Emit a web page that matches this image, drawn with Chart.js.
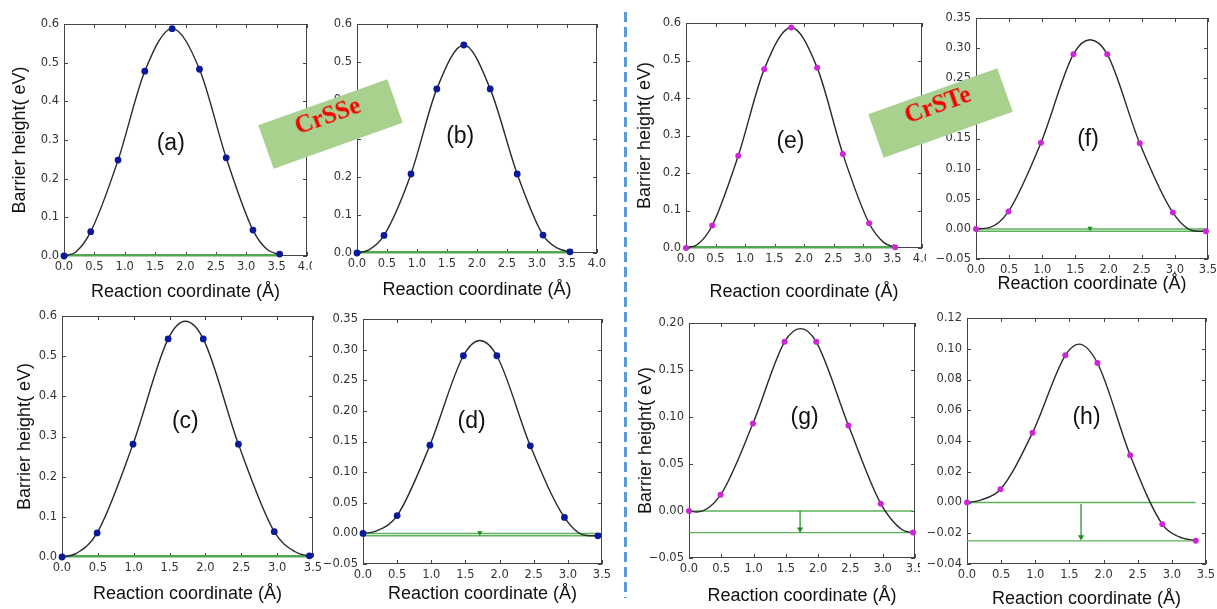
<!DOCTYPE html>
<html>
<head>
<meta charset="utf-8">
<title>Barrier height vs reaction coordinate</title>
<script src="https://cdn.jsdelivr.net/npm/chart.js@4.4.0/dist/chart.umd.min.js"></script>
<style>
    body {
        margin: 0;
        width: 1217px;
        height: 609px;
        background: #fff;
        position: relative;
        overflow: hidden;
    }
    canvas {
        position: absolute;
    }
    .divider {
        position: absolute;
        left: 624px;
        top: 12px;
        width: 3px;
        height: 586px;
        background: repeating-linear-gradient(to bottom, #5b9bd5 0 10px, transparent 10px 15px);
    }
    .banner {
        position: absolute;
        width: 137px;
        height: 46px;
        line-height: 46px;
        background: #a9d18e;
        color: #f00000;
        font: bold 25px "Liberation Serif", "Times New Roman", serif;
        text-align: center;
        transform: rotate(-19.6deg);
        z-index: 5;
    }
</style>
</head>
<body>
<div id="figure"></div>
<div class="divider"></div>
<div class="banner" style="left:262px; top:101px;">CrSSe</div>
<div class="banner" style="left:872px; top:90px;">CrSTe</div>

<script>
// ---- data ----
// CrSSe, blue points
const aX = [0, 0.44, 0.89, 1.33, 1.78, 2.23, 2.67, 3.11, 3.55];
const aY = [0, 0.063, 0.248, 0.478, 0.588, 0.483, 0.254, 0.067, 0.005];
const aCurveX = [0, 0.2, 0.44, 0.89, 1.33, 1.78, 2.23, 2.67, 3.11, 3.35, 3.55];
const aCurveY = [0, 0.011, 0.063, 0.248, 0.478, 0.588, 0.483, 0.254, 0.067, 0.016, 0.004];
const aLevels = [0.002];

const bX = [0, 0.45, 0.9, 1.33, 1.78, 2.22, 2.67, 3.1, 3.55];
const bY = [0, 0.046, 0.207, 0.43, 0.545, 0.43, 0.207, 0.047, 0.003];
const bCurveX = [0, 0.2, 0.45, 0.9, 1.33, 1.78, 2.22, 2.67, 3.1, 3.35, 3.55];
const bCurveY = [0, 0.008, 0.046, 0.207, 0.43, 0.545, 0.43, 0.207, 0.047, 0.012, 0.003];
const bLevels = [0.002];

const cX = [0, 0.49, 0.99, 1.48, 1.97, 2.46, 2.96, 3.45];
const cY = [0, 0.06, 0.281, 0.543, 0.543, 0.281, 0.063, 0.003];
const cCurveX = [0, 0.2, 0.49, 0.99, 1.48, 1.72, 1.97, 2.46, 2.96, 3.25, 3.45];
const cCurveY = [0, 0.009, 0.06, 0.281, 0.543, 0.587, 0.543, 0.281, 0.063, 0.013, 0.002];
const cLevels = [0.002];

const dX = [0, 0.5, 0.98, 1.47, 1.96, 2.45, 2.95, 3.44];
const dY = [0, 0.029, 0.144, 0.29, 0.29, 0.143, 0.026, -0.004];
const dCurveX = [0, 0.2, 0.5, 0.98, 1.47, 1.71, 1.96, 2.45, 2.95, 3.25, 3.44];
const dCurveY = [0, 0.004, 0.029, 0.144, 0.29, 0.315, 0.29, 0.143, 0.026, -0.003, -0.004];
const dLevels = [0, -0.004];
const dArrow = [1.71, 0.001];

// CrSTe, magenta points
const eX = [0, 0.445, 0.886, 1.326, 1.783, 2.223, 2.658, 3.104, 3.544];
const eY = [0, 0.06, 0.246, 0.477, 0.588, 0.481, 0.251, 0.066, 0.002];
const eCurveX = [0, 0.2, 0.445, 0.886, 1.326, 1.783, 2.223, 2.658, 3.104, 3.35, 3.544];
const eCurveY = [0, 0.01, 0.06, 0.246, 0.477, 0.588, 0.481, 0.251, 0.066, 0.015, 0.002];
const eLevels = [0.002];

const fX = [0, 0.49, 0.98, 1.47, 1.98, 2.47, 2.97, 3.47];
const fY = [0, 0.029, 0.143, 0.29, 0.29, 0.142, 0.027, -0.004];
const fCurveX = [0, 0.2, 0.49, 0.98, 1.47, 1.72, 1.98, 2.47, 2.97, 3.3, 3.47];
const fCurveY = [0, 0.002, 0.029, 0.143, 0.29, 0.314, 0.29, 0.142, 0.027, -0.0035, -0.004];
const fLevels = [0, -0.004];
const fArrow = [1.72, 0.001];

const gX = [0, 0.49, 0.99, 1.48, 1.97, 2.47, 2.97, 3.47];
const gY = [0, 0.0174, 0.093, 0.18, 0.18, 0.091, 0.0078, -0.023];
const gCurveX = [0, 0.12, 0.49, 0.99, 1.48, 1.73, 1.97, 2.47, 2.97, 3.3, 3.47];
const gCurveY = [0, -0.001, 0.0174, 0.093, 0.18, 0.194, 0.18, 0.091, 0.0078, -0.02, -0.023];
const gLevels = [0, -0.023];
const gArrow = [1.72, 0, -0.0195];

const hX = [0, 0.49, 0.96, 1.44, 1.91, 2.39, 2.86, 3.35];
const hY = [0, 0.0086, 0.0454, 0.0957, 0.0907, 0.0307, -0.0142, -0.0248];
const hCurveX = [0, 0.2, 0.49, 0.96, 1.44, 1.64, 1.91, 2.39, 2.86, 3.1, 3.35];
const hCurveY = [0, 0.0016, 0.0086, 0.0454, 0.0957, 0.103, 0.0907, 0.0307, -0.0142, -0.0222, -0.0248];
const hLevels = [0, -0.025];
const hArrow = [1.67, -0.001, -0.0225];

// axis ranges: [min, max, step]
const xRange40 = [0, 4, 0.5];
const xRange35 = [0, 3.5, 0.5];
const yRange06 = [0, 0.6, 0.1];
const yRange035 = [-0.05, 0.35, 0.05];
const yRange020 = [-0.05, 0.20, 0.05];
const yRange012 = [-0.04, 0.12, 0.02];

const X_TITLE = 'Reaction coordinate (\u00c5)';
const Y_TITLE = 'Barrier height( eV)';

const BLUE = '#0a1a9a';
const MAGENTA = '#cc26d9';
const GREEN = '#5cb35c';
const DARK_GREEN = '#1e8a1e';

// ---- layout of each panel: plot box [left, top, right, bottom] in page pixels ----
const panels = [
    { text: '(a)', xs: aX, ys: aY, cx: aCurveX, cy: aCurveY, levels: aLevels, xr: xRange40, yr: yRange06, dec: 1,
      color: BLUE, box: [64, 24, 307, 256], yw: 55, xh: 47, pr: 5, title: true, at: [1.757, 0.291], lw: 2.5 },
    { text: '(b)', xs: bX, ys: bY, cx: bCurveX, cy: bCurveY, levels: bLevels, xr: xRange40, yr: yRange06, dec: 1,
      color: BLUE, box: [357, 24, 597, 253], yw: 45, xh: 48, pr: 12, title: false, at: [1.72, 0.305], lw: 2.5 },
    { text: '(c)', xs: cX, ys: cY, cx: cCurveX, cy: cCurveY, levels: cLevels, xr: xRange35, yr: yRange06, dec: 1,
      color: BLUE, box: [62, 316, 313, 557], yw: 48, xh: 48, pr: 10, title: true, at: [1.72, 0.337], lw: 2.5 },
    { text: '(d)', xs: dX, ys: dY, cx: dCurveX, cy: dCurveY, levels: dLevels, xr: xRange35, yr: yRange035, dec: 2,
      color: BLUE, box: [363, 319, 602, 564], yw: 45, xh: 41, pr: 10, title: false, at: [1.59, 0.182], lw: 1.5, marker: dArrow },
    { text: '(e)', xs: eX, ys: eY, cx: eCurveX, cy: eCurveY, levels: eLevels, xr: xRange40, yr: yRange06, dec: 1,
      color: MAGENTA, box: [686, 23, 922, 248], yw: 52, xh: 55, pr: 4, title: true, at: [1.77, 0.283], lw: 2.5 },
    { text: '(f)', xs: fX, ys: fY, cx: fCurveX, cy: fCurveY, levels: fLevels, xr: xRange35, yr: yRange035, dec: 2,
      color: MAGENTA, box: [976, 18, 1208, 259], yw: 45, xh: 36, pr: 8, title: false, at: [1.69, 0.148], lw: 1.5, marker: fArrow },
    { text: '(g)', xs: gX, ys: gY, cx: gCurveX, cy: gCurveY, levels: gLevels, xr: xRange35, yr: yRange020, dec: 2,
      color: MAGENTA, box: [689, 323, 915, 558], yw: 54, xh: 49, pr: 5, title: true, at: [1.79, 0.099], lw: 1.3, arrow: gArrow },
    { text: '(h)', xs: hX, ys: hY, cx: hCurveX, cy: hCurveY, levels: hLevels, xr: xRange35, yr: yRange012, dec: 2,
      color: MAGENTA, box: [967, 318, 1206, 564], yw: 45, xh: 46, pr: 8, title: false, at: [1.75, 0.055], lw: 1.3, arrow: hArrow }
];

const TOP_PAD = 10;
const tickFont = { family: '"DejaVu Sans", sans-serif', size: 11.5 };
const titleFont = { family: '"Liberation Sans", Arial, sans-serif', size: 18 };

function fmt(v, dec) {
    if (Math.abs(v) < 1e-9) v = 0;
    const s = Math.abs(v).toFixed(dec);
    return v < 0 ? '\u2212' + s : s;
}

function toPoints(xs, ys) {
    return xs.map((x, i) => ({ x: x, y: ys[i] }));
}

// frame, inward ticks on all four sides, and the panel letter
const framePlugin = {
    id: 'frame',
    beforeDatasetsDraw(chart) {
        const { ctx, chartArea: a, scales: { x, y } } = chart;
        ctx.save();
        ctx.strokeStyle = '#444';
        ctx.lineWidth = 1;
        ctx.beginPath();
        x.ticks.forEach(t => {
            const px = Math.round(x.getPixelForValue(t.value)) + 0.5;
            ctx.moveTo(px, a.bottom); ctx.lineTo(px, a.bottom - 4);
            ctx.moveTo(px, a.top); ctx.lineTo(px, a.top + 4);
        });
        y.ticks.forEach(t => {
            const py = Math.round(y.getPixelForValue(t.value)) + 0.5;
            ctx.moveTo(a.left, py); ctx.lineTo(a.left + 4, py);
            ctx.moveTo(a.right, py); ctx.lineTo(a.right - 4, py);
        });
        ctx.stroke();
        ctx.strokeRect(a.left + 0.5, a.top + 0.5, a.width - 1, a.height - 1);
        ctx.restore();
    },
    afterDraw(chart, args, opts) {
        const { ctx, scales: { x, y } } = chart;
        ctx.save();
        ctx.fillStyle = '#111';
        ctx.font = '23px "Liberation Sans", Arial, sans-serif';
        ctx.textAlign = 'center';
        ctx.textBaseline = 'middle';
        ctx.fillText(opts.text, x.getPixelForValue(opts.at[0]), y.getPixelForValue(opts.at[1]));
        ctx.restore();
    }
};

const figure = document.getElementById('figure');

panels.forEach(p => {
    const [left, top, right, bottom] = p.box;
    const canvas = document.createElement('canvas');
    canvas.width = p.yw + (right - left) + p.pr;
    canvas.height = TOP_PAD + (bottom - top) + p.xh;
    canvas.style.left = (left - p.yw) + 'px';
    canvas.style.top = (top - TOP_PAD) + 'px';
    figure.appendChild(canvas);

    const xEnd = p.xs[p.xs.length - 1];
    const datasets = [];

    // data points
    datasets.push({
        data: toPoints(p.xs, p.ys),
        pointRadius: p.color === BLUE ? 3.4 : 3,
        pointBackgroundColor: p.color,
        pointBorderColor: p.color,
        pointBorderWidth: 0,
        clip: 8
    });

    // downward arrow between the two levels
    if (p.arrow) {
        datasets.push({
            data: [{ x: p.arrow[0], y: p.arrow[1] }, { x: p.arrow[0], y: p.arrow[2] }],
            showLine: true,
            borderColor: DARK_GREEN,
            borderWidth: 1.2,
            pointRadius: [0, 3.5],
            pointStyle: 'triangle',
            rotation: 180,
            pointBackgroundColor: DARK_GREEN,
            pointBorderColor: DARK_GREEN,
            pointBorderWidth: 0
        });
    }
    if (p.marker) {
        datasets.push({
            data: [{ x: p.marker[0], y: p.marker[1] }],
            pointRadius: 3,
            pointStyle: 'triangle',
            rotation: 180,
            pointBackgroundColor: DARK_GREEN,
            pointBorderColor: DARK_GREEN,
            pointBorderWidth: 0
        });
    }

    // fitted curve
    datasets.push({
        data: toPoints(p.cx, p.cy),
        showLine: true,
        borderColor: '#2a2a2a',
        borderWidth: 1.4,
        pointRadius: 0,
        tension: 0.4,
        cubicInterpolationMode: 'monotone'
    });

    // green energy levels
    p.levels.forEach(level => {
        datasets.push({
            data: [{ x: 0, y: level }, { x: xEnd, y: level }],
            showLine: true,
            borderColor: p.lw > 2 ? '#4fa84f' : GREEN,
            borderWidth: p.lw,
            pointRadius: 0,
            clip: 4
        });
    });

    new Chart(canvas, {
        type: 'scatter',
        data: { datasets: datasets },
        options: {
            animation: false,
            responsive: false,
            devicePixelRatio: 1,
            events: [],
            layout: { padding: { top: TOP_PAD, right: p.pr, left: 0, bottom: 0 } },
            plugins: {
                legend: { display: false },
                tooltip: { enabled: false },
                frame: { text: p.text, at: p.at }
            },
            scales: {
                x: {
                    type: 'linear',
                    min: p.xr[0],
                    max: p.xr[1],
                    grid: { display: false, drawTicks: false },
                    border: { display: false },
                    ticks: {
                        stepSize: p.xr[2],
                        autoSkip: false,
                        maxRotation: 0,
                        padding: 4,
                        color: '#333',
                        font: tickFont,
                        callback: v => fmt(v, 1)
                    },
                    title: { display: true, text: X_TITLE, color: '#111', font: titleFont, padding: 0 },
                    afterFit: s => {
                        s.height = p.xh;
                        s.paddingLeft = 0;
                        s.paddingRight = 0;
                    }
                },
                y: {
                    type: 'linear',
                    min: p.yr[0],
                    max: p.yr[1],
                    grid: { display: false, drawTicks: false },
                    border: { display: false },
                    ticks: {
                        stepSize: p.yr[2],
                        autoSkip: false,
                        padding: 5,
                        color: '#333',
                        font: tickFont,
                        callback: v => fmt(v, p.dec)
                    },
                    title: { display: p.title, text: Y_TITLE, color: '#111', font: titleFont, padding: 0 },
                    afterFit: s => {
                        s.width = p.yw;
                        s.paddingTop = 0;
                        s.paddingBottom = 0;
                    }
                }
            }
        },
        plugins: [framePlugin]
    });
});
</script>
</body>
</html>
